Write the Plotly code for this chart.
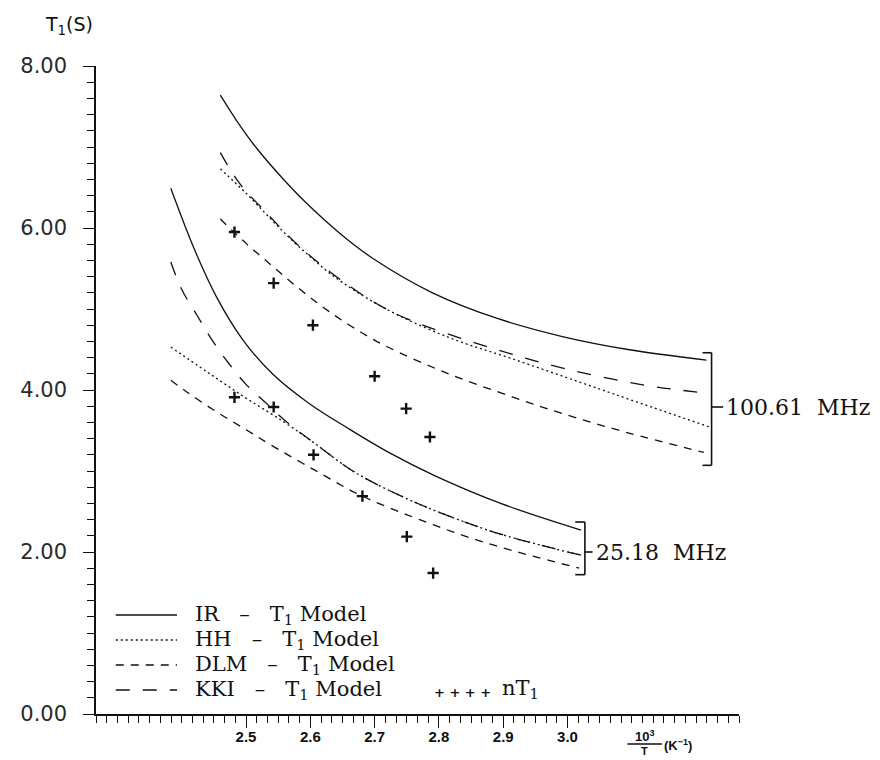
import plotly.graph_objects as go

# ---------------- data ----------------
# 100.61 MHz curves
ir100_x = [2.460, 2.485, 2.515, 2.556, 2.591, 2.648, 2.698, 2.790, 2.892, 2.992, 3.094, 3.216]
ir100_y = [7.64, 7.33, 7.00, 6.62, 6.33, 5.92, 5.62, 5.20, 4.88, 4.66, 4.50, 4.37]
hh100_x = [2.460, 2.500, 2.535, 2.570, 2.605, 2.637, 2.713, 2.815, 2.916, 3.018, 3.094, 3.222]
hh100_y = [6.73, 6.43, 6.14, 5.86, 5.61, 5.40, 5.02, 4.65, 4.38, 4.10, 3.89, 3.54]
dlm100_x = [2.460, 2.500, 2.541, 2.581, 2.622, 2.663, 2.713, 2.815, 2.916, 2.988, 3.090, 3.212]
dlm100_y = [6.11, 5.81, 5.53, 5.26, 5.01, 4.79, 4.56, 4.20, 3.91, 3.72, 3.48, 3.23]
kki100_x = [2.460, 2.490, 2.535, 2.570, 2.605, 2.637, 2.700, 2.756, 2.881, 2.998, 3.120, 3.218]
kki100_y = [6.93, 6.55, 6.16, 5.87, 5.62, 5.42, 5.08, 4.86, 4.52, 4.26, 4.06, 3.96]

# 25.18 MHz curves
ir25_x = [2.383, 2.419, 2.454, 2.495, 2.541, 2.597, 2.660, 2.724, 2.794, 2.896, 3.021]
ir25_y = [6.49, 5.75, 5.15, 4.62, 4.20, 3.84, 3.52, 3.22, 2.94, 2.60, 2.27]
hh25_x = [2.383, 2.440, 2.500, 2.560, 2.607, 2.668, 2.744, 2.820, 2.896, 3.021]
hh25_y = [4.53, 4.22, 3.90, 3.60, 3.34, 2.99, 2.68, 2.43, 2.22, 1.96]
dlm25_x = [2.383, 2.409, 2.454, 2.500, 2.541, 2.607, 2.678, 2.770, 2.870, 3.018]
dlm25_y = [4.12, 3.97, 3.73, 3.51, 3.31, 3.01, 2.70, 2.40, 2.12, 1.80]
kki25_x = [2.383, 2.400, 2.424, 2.446, 2.473, 2.500, 2.535, 2.561, 2.607, 2.668, 2.744, 2.820, 2.896, 3.021]
kki25_y = [5.58, 5.24, 4.92, 4.63, 4.33, 4.07, 3.81, 3.62, 3.34, 2.99, 2.68, 2.43, 2.22, 1.96]

# measured nT1 points
nt100_x = [2.482, 2.543, 2.604, 2.700, 2.749, 2.786]
nt100_y = [5.95, 5.32, 4.80, 4.17, 3.77, 3.42]
nt25_x = [2.482, 2.543, 2.605, 2.681, 2.750, 2.791]
nt25_y = [3.91, 3.79, 3.20, 2.69, 2.19, 1.74]

# axis ticks
x_tick_vals = [2.5, 2.6, 2.7, 2.8, 2.9, 3.0]
x_tick_text = ["2.5", "2.6", "2.7", "2.8", "2.9", "3.0"]
y_tick_vals = [0, 2, 4, 6, 8]
y_tick_text = ["0.00", "2.00", "4.00", "6.00", "8.00"]

# frequency brackets
bracket_100 = dict(x=3.224, top=4.46, bottom=3.07, mid=3.79, label="100.61\u00a0\u00a0MHz")
bracket_25 = dict(x=3.027, top=2.37, bottom=1.72, mid=2.00, label="25.18\u00a0\u00a0MHz")

SP = "\u00a0\u00a0\u00a0"
legend_labels = ["IR" + SP + "\u2013" + SP + "T<sub>1</sub> Model",
                 "HH" + SP + "\u2013" + SP + "T<sub>1</sub> Model",
                 "DLM" + SP + "\u2013" + SP + "T<sub>1</sub> Model",
                 "KKI" + SP + "\u2013" + SP + "T<sub>1</sub> Model"]

# ---------------- styles ----------------
INK = "#111111"
DASH = {"IR": "solid", "HH": "2px,3px", "DLM": "8px,7px", "KKI": "14px,13px"}
LW = 1.3

fig = go.Figure()

curves = [
    ("IR", ir100_x, ir100_y), ("HH", hh100_x, hh100_y),
    ("DLM", dlm100_x, dlm100_y), ("KKI", kki100_x, kki100_y),
    ("IR", ir25_x, ir25_y), ("HH", hh25_x, hh25_y),
    ("DLM", dlm25_x, dlm25_y), ("KKI", kki25_x, kki25_y),
]
for name, xs, ys in curves:
    fig.add_trace(go.Scatter(
        x=xs, y=ys, mode="lines", name=name, showlegend=False,
        line=dict(color=INK, width=LW, dash=DASH[name], shape="spline", smoothing=1.0),
        hoverinfo="skip"))

for xs, ys in [(nt100_x, nt100_y), (nt25_x, nt25_y)]:
    fig.add_trace(go.Scatter(
        x=xs, y=ys, mode="markers", showlegend=False, name="nT1",
        marker=dict(symbol="cross-thin", size=8, line=dict(color=INK, width=2.4)),
        hoverinfo="skip"))

# ---------------- layout geometry (page has an 8px body margin) ----------------
OFF = 8
WL, WT, PW, PH = 88, 66, 651, 648     # plot area in window pixels
FW, FH = 880 - OFF, 760 - OFF


def px(xp):
    return (xp - WL) / PW


def py(yp):
    return (WT + PH - yp) / PH


# ---------------- brackets ----------------
shapes = []
annotations = []
for b, hw, tk in [(bracket_100, 0.014, 0.018), (bracket_25, 0.015, 0.012)]:
    line = dict(color=INK, width=1.6)
    shapes.append(dict(type="line", xref="x", yref="y", x0=b["x"], x1=b["x"], y0=b["top"], y1=b["bottom"], line=line))
    shapes.append(dict(type="line", xref="x", yref="y", x0=b["x"] - hw, x1=b["x"], y0=b["top"], y1=b["top"], line=line))
    shapes.append(dict(type="line", xref="x", yref="y", x0=b["x"] - hw, x1=b["x"], y0=b["bottom"], y1=b["bottom"], line=line))
    shapes.append(dict(type="line", xref="x", yref="y", x0=b["x"], x1=b["x"] + tk, y0=b["mid"], y1=b["mid"], line=line))
    annotations.append(dict(xref="x", yref="y", x=b["x"] + tk + 0.002, y=b["mid"], text=b["label"],
                            showarrow=False, xanchor="left", yanchor="middle",
                            font=dict(family="DejaVu Serif", size=22, color=INK)))

# ---------------- hand-made legend ----------------
rows_y = [615, 640, 665, 690]
for name, yrow, lab in zip(["IR", "HH", "DLM", "KKI"], rows_y, legend_labels):
    shapes.append(dict(type="line", xref="paper", yref="paper", x0=px(108), x1=px(170), y0=py(yrow), y1=py(yrow),
                       line=dict(color=INK, width=LW, dash=DASH[name])))
    annotations.append(dict(xref="paper", yref="paper", x=px(186), y=py(yrow), text=lab, showarrow=False,
                            xanchor="left", yanchor="middle",
                            font=dict(family="DejaVu Serif", size=21, color=INK)))
annotations.append(dict(xref="paper", yref="paper", x=px(459), y=py(692), text="<b>+ + + +</b>", showarrow=False,
                        xanchor="center", yanchor="middle", font=dict(family="DejaVu Sans", size=13, color=INK)))
annotations.append(dict(xref="paper", yref="paper", x=px(497), y=py(689), text="nT<sub>1</sub>", showarrow=False,
                        xanchor="left", yanchor="middle", font=dict(family="DejaVu Serif", size=21, color=INK)))

# axis titles
annotations.append(dict(xref="paper", yref="paper", x=px(34), y=py(25), text="T<sub>1</sub>(S)", showarrow=False,
                        xanchor="left", yanchor="middle", font=dict(family="DejaVu Sans", size=19, color=INK)))
annotations.append(dict(xref="paper", yref="paper", x=px(644), y=py(736), text="<b>10<sup>3</sup></b>", showarrow=False,
                        xanchor="center", yanchor="middle", font=dict(family="Liberation Sans", size=13, color=INK)))
shapes.append(dict(type="line", xref="paper", yref="paper", x0=px(626), x1=px(661), y0=py(744), y1=py(744),
                   line=dict(color=INK, width=1.5)))
annotations.append(dict(xref="paper", yref="paper", x=px(643), y=py(751), text="<b>T</b>", showarrow=False,
                        xanchor="center", yanchor="middle", font=dict(family="Liberation Sans", size=11, color=INK)))
annotations.append(dict(xref="paper", yref="paper", x=px(661), y=py(745), text="<b>(K<sup>\u22121</sup>)</b>", showarrow=False,
                        xanchor="left", yanchor="middle", font=dict(family="Liberation Sans", size=13, color=INK)))

fig.update_layout(
    width=FW, height=FH,
    margin=dict(l=WL - OFF, r=FW - (WL - OFF + PW), t=WT - OFF, b=FH - (WT - OFF + PH), pad=0),
    paper_bgcolor="white", plot_bgcolor="white",
    showlegend=False,
    shapes=shapes, annotations=annotations,
    xaxis=dict(range=[2.5 - 14 / 60, 3.0 + 16 / 60], showgrid=False, zeroline=False,
               showline=True, linecolor=INK, linewidth=1.5,
               ticks="outside", ticklen=12, tickwidth=1.4, tickcolor=INK,
               tickvals=x_tick_vals, ticktext=x_tick_text, ticklabelstandoff=-4,
               tickfont=dict(family="Liberation Sans", size=15, color=INK, weight="bold"),
               minor=dict(ticks="outside", ticklen=7, tickwidth=1.2, tickcolor=INK, tick0=2.5, dtick=1 / 60)),
    yaxis=dict(range=[0, 8], showgrid=False, zeroline=False,
               showline=True, linecolor=INK, linewidth=1.5,
               ticks="outside", ticklen=11, tickwidth=1.4, tickcolor=INK,
               tickvals=y_tick_vals, ticktext=y_tick_text, ticklabelstandoff=12,
               tickfont=dict(family="DejaVu Sans", size=21, color="#2a2a2a"),
               minor=dict(ticks="outside", ticklen=7, tickwidth=1.2, tickcolor=INK, tick0=0, dtick=0.2)),
)

fig.write_html("out.html", config={"displayModeBar": False})
